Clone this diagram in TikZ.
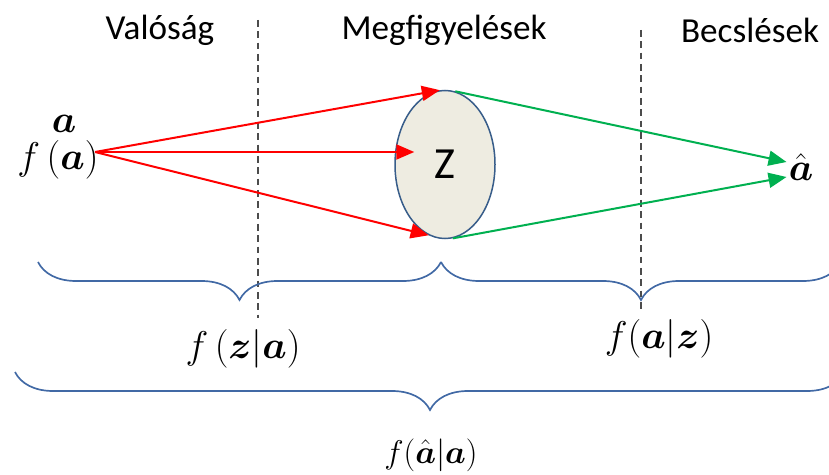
\RequirePackage{fix-cm}
\documentclass[tikz,border=0pt]{standalone}
\usepackage{amsmath}
\usepackage{bm}
\usepackage{fontspec}
\setsansfont{Carlito}
\usetikzlibrary{arrows.meta, positioning, shapes.geometric, calc,
                decorations.pathreplacing}

\definecolor{obsred}{RGB}{255,0,0}
\definecolor{estgreen}{RGB}{0,176,80}
\definecolor{ovalfill}{RGB}{238,236,225}
\definecolor{ovalline}{RGB}{56,93,138}
\definecolor{bracecol}{RGB}{65,105,165}

\begin{document}
\begin{tikzpicture}[
    x=0.3mm, y=-0.3mm,
    head/.style={font=\sffamily\fontsize{30}{36}\selectfont, inner sep=0pt},
    lbl/.style={font=\fontsize{33}{40}\selectfont, inner sep=0pt},
    obs/.style={obsred, line width=0.6mm,
                -{Triangle[length=5.4mm, width=4.5mm]}},
    est/.style={estgreen, line width=0.6mm,
                -{Triangle[length=5.4mm, width=4.5mm]}},
    sep/.style={draw=black!70, line width=0.5mm, dash pattern=on 2mm off 1.4mm},
    curly/.style={decorate, decoration={brace, mirror, amplitude=11.4mm},
                  draw=bracecol, line width=0.5mm}
  ]
  \useasboundingbox (0,0) rectangle (829,475);

  % column headers
  \node[head] (real) at (160,30) {Valóság};
  \node[head] (meas) at (444,30) {Megfigyelések};
  \node[head] (est) at (750,30) {Becslések};

  % separators
  \draw[sep] (258,20) -- (258,318);
  \draw[sep] (641,30) -- (641,312);

  % source, observations, estimate
  \node[lbl] (avec) at (64,124) {$\bm{a}$};
  \node[lbl] (fa) at (58,160) {$f\,(\bm{a})$};
  \coordinate (src) at (95,152);
  \node[ellipse, draw=ovalline, fill=ovalfill, line width=0.45mm,
        minimum width=100*0.3mm, minimum height=148*0.3mm, inner sep=0pt,
        font=\sffamily\fontsize{38}{44}\selectfont] (Z) at (445,164.5) {Z};
  \node[lbl] (ahat) at (801,167) {$\hat{\bm{a}}$};

  \draw[obs] (src) -- (Z.94);
  \draw[obs] (src) -- ($(Z.west)+(20,-12.5)$);
  \draw[obs] (src) -- (Z.-103);
  \draw[est] (Z.82) -- ($(ahat.west)+(-2,-5)$);
  \draw[est] (Z.-84) -- ($(ahat.west)+(-2,10)$);

  % braces
  \draw[curly] (38,262) -- (441,262);
  \draw[curly] (441,262) -- (841,262);
  \draw[curly] (15,372) -- (845,372);

  \node[lbl] (fza) at (243,349) {$f\,(\bm{z}|\bm{a})$};
  \node[lbl] (faz) at (659,339) {$f(\bm{a}|\bm{z})$};
  \node[lbl, font=\fontsize{28}{34}\selectfont] (fhat) at (431,455)
    {$f(\hat{\bm{a}}|\bm{a})$};
\end{tikzpicture}
\end{document}
